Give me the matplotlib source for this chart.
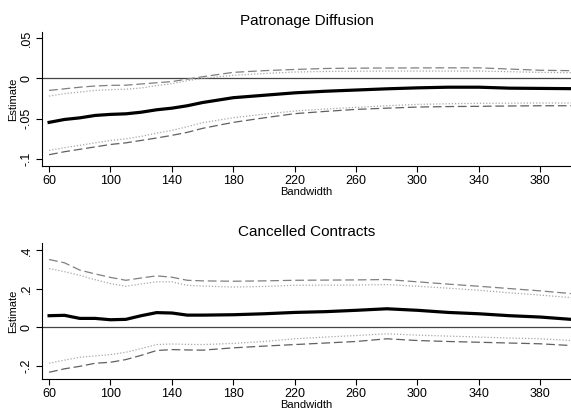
import matplotlib
matplotlib.use("Agg")
import matplotlib.pyplot as plt

plt.rcParams["font.family"] = ["Liberation Sans", "DejaVu Sans"]

# bandwidth grid
bw = [60, 70, 80, 90, 100, 110, 120, 130, 140, 150, 160, 180, 200,
      220, 240, 260, 280, 300, 320, 340, 360, 380, 400]

# Patronage Diffusion
pd_est = [-0.0546, -0.051, -0.049, -0.046, -0.0447, -0.044, -0.042, -0.039, -0.037,
          -0.034, -0.030, -0.024, -0.021, -0.018, -0.016, -0.0145, -0.013, -0.0118,
          -0.011, -0.011, -0.0122, -0.0125, -0.0128]
pd_hi95 = [-0.015, -0.013, -0.011, -0.0095, -0.0087, -0.0085, -0.007, -0.0055, -0.004,
           -0.001, 0.002, 0.0074, 0.0095, 0.011, 0.0122, 0.0126, 0.0128, 0.0129,
           0.013, 0.013, 0.0115, 0.010, 0.0095]
pd_hi90 = [-0.022, -0.019, -0.017, -0.015, -0.014, -0.0135, -0.012, -0.009, -0.0066,
           -0.003, 0.0, 0.0037, 0.006, 0.0078, 0.0085, 0.0088, 0.009, 0.009,
           0.009, 0.009, 0.0082, 0.0074, 0.007]
pd_lo90 = [-0.0893, -0.086, -0.083, -0.080, -0.077, -0.075, -0.072, -0.068, -0.0645,
           -0.060, -0.055, -0.0488, -0.0445, -0.0405, -0.038, -0.036, -0.034, -0.0323,
           -0.0315, -0.031, -0.0308, -0.0306, -0.0306]
pd_lo95 = [-0.0947, -0.091, -0.088, -0.085, -0.082, -0.080, -0.077, -0.074, -0.0707,
           -0.067, -0.062, -0.0546, -0.049, -0.0438, -0.041, -0.0385, -0.037, -0.0356,
           -0.035, -0.0347, -0.0343, -0.034, -0.034]

# Cancelled Contracts
cc_est = [0.061, 0.063, 0.047, 0.047, 0.040, 0.042, 0.061, 0.077, 0.075, 0.064,
          0.064, 0.066, 0.071, 0.078, 0.082, 0.089, 0.097, 0.089, 0.078, 0.071,
          0.061, 0.054, 0.042]
cc_hi95 = [0.353, 0.336, 0.298, 0.278, 0.260, 0.245, 0.257, 0.268, 0.261, 0.245,
           0.242, 0.240, 0.242, 0.245, 0.246, 0.247, 0.249, 0.237, 0.225, 0.214,
           0.202, 0.190, 0.176]
cc_hi90 = [0.306, 0.290, 0.271, 0.248, 0.228, 0.214, 0.226, 0.237, 0.237, 0.219,
           0.215, 0.210, 0.213, 0.219, 0.220, 0.220, 0.223, 0.214, 0.204, 0.193,
           0.180, 0.168, 0.155]
cc_lo90 = [-0.186, -0.170, -0.155, -0.148, -0.141, -0.129, -0.110, -0.089, -0.086,
           -0.088, -0.089, -0.083, -0.073, -0.059, -0.050, -0.042, -0.033, -0.040,
           -0.045, -0.050, -0.055, -0.059, -0.068]
cc_lo95 = [-0.233, -0.215, -0.202, -0.186, -0.181, -0.167, -0.145, -0.120, -0.115,
           -0.117, -0.118, -0.106, -0.097, -0.089, -0.081, -0.073, -0.059, -0.068,
           -0.073, -0.077, -0.081, -0.085, -0.094]

xticks = [60, 100, 140, 180, 220, 260, 300, 340, 380]

fig = plt.figure(figsize=(5.71, 4.09), dpi=100)
ax1 = fig.add_axes([0.0736, 0.5941, 0.9264, 0.3276])
ax2 = fig.add_axes([0.0736, 0.0733, 0.9264, 0.3325])


def panel(ax, title, est, hi95, hi90, lo90, lo95, ylim, yticks, ylabels):
    ax.axhline(0, color="#444444", linewidth=0.9, zorder=1)
    ax.plot(bw, hi95, color="#808080", linewidth=0.9, dashes=(7, 3))
    ax.plot(bw, lo95, color="#606060", linewidth=0.9, dashes=(7, 3))
    ax.plot(bw, hi90, color="#a8a8a8", linewidth=0.9, linestyle=(0, (1, 1.5)))
    ax.plot(bw, lo90, color="#a8a8a8", linewidth=0.9, linestyle=(0, (1, 1.5)))
    ax.plot(bw, est, color="black", linewidth=2.3, zorder=5)
    ax.set_xlim(55.4, 400)
    ax.set_ylim(*ylim)
    ax.set_xticks(xticks)
    ax.set_yticks(yticks)
    ax.set_yticklabels(ylabels, rotation=90, va="center")
    ax.tick_params(labelsize=9, length=4.5, width=0.8, pad=2, colors="black")
    ax.set_xlabel("Bandwidth", fontsize=8, labelpad=0)
    ax.set_ylabel("Estimate", fontsize=8, labelpad=2)
    ax.set_title(title, fontsize=11, pad=5)
    ax.spines[["top", "right"]].set_visible(False)
    ax.spines[["left", "bottom"]].set_linewidth(0.8)


panel(ax1, "Patronage Diffusion", pd_est, pd_hi95, pd_hi90, pd_lo90, pd_lo95,
      (-0.1087, 0.0574), [-0.1, -0.05, 0, 0.05], ["-.1", "-.05", "0", ".05"])
panel(ax2, "Cancelled Contracts", cc_est, cc_hi95, cc_hi90, cc_lo90, cc_lo95,
      (-0.268, 0.4386), [-0.2, 0, 0.2, 0.4], ["-.2", "0", ".2", ".4"])

fig.savefig("out.png", dpi=100)
